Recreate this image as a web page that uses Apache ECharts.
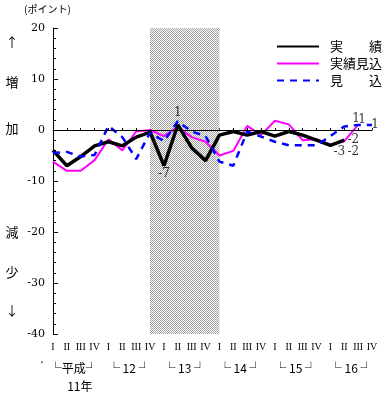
<!DOCTYPE html>
<html><head><meta charset="utf-8">
<script src="https://cdn.jsdelivr.net/npm/echarts@6/dist/echarts.min.js"></script>
<style>html,body{margin:0;padding:0;background:#fff}#c{width:388px;height:395px}</style>
</head><body><div id="c"></div>
<script>
// ---- data ----
const quarterLabels = ['I','II','III','IV','I','II','III','IV','I','II','III','IV',
                       'I','II','III','IV','I','II','III','IV','I','II','III','IV'];
const yearLabels = ['└平成┘\n　11年','└ 12 ┘','└ 13 ┘','└ 14 ┘','└ 15 ┘','└ 16 ┘'];
const seriesNames = ['実　　績','実績見込','見　　込'];
const jisseki       = [-4,-7,-5.2,-3.1,-2.3,-3.1,-1.4,-0.4,-7,1,-3.5,-6,-1,-0.3,-1,-0.3,-1.2,-0.3,-1,-2,-3,-2,null,null];
const jissekiMikomi = [-6.2,-8,-8,-5.9,-1.8,-4,-0.3,0,-1.2,0.6,-1.4,-2.3,-5,-4.1,0.8,-1,1.8,1.1,-2,-1.8,-2.9,-2.2,1,null];
const mikomi        = [-4.5,-4.3,-5.2,-4.9,0.8,-1.4,-5.7,-0.5,-2.2,1.7,-0.3,-1.2,-6.2,-7,-0.3,-1.3,-2.3,-3,-3,-3,-1.2,0.7,1,1];
const shadeFrom = 7, shadeTo = 12;   // 平成12年IV ～ 14年I

// ---- helpers ----
const yearCenters = yearLabels.map((_, k) => k * 4 + 1.5);
const pc = document.createElement('canvas');
pc.width = 2; pc.height = 2;
const g = pc.getContext('2d');
g.fillStyle = '#ffffff'; g.fillRect(0, 0, 2, 2);
g.fillStyle = '#a0a0a0'; g.fillRect(0, 0, 1, 1); g.fillRect(1, 1, 1, 1);

const srcs = {black: jisseki, mag: jissekiMikomi, blue: mikomi};
const annots = [
  {s:'black', i:8,  dx:0,  dy:8},
  {s:'black', i:9,  dx:0,  dy:-12},
  {s:'black', i:20, dx:9,  dy:7},
  {s:'black', i:21, dx:9,  dy:0},
  {s:'mag',   i:21, dx:9,  dy:11},
  {s:'mag',   i:22, dx:-2, dy:-6},
  {s:'blue',  i:22, dx:4,  dy:-5},
  {s:'blue',  i:23, dx:3,  dy:0}
];
const labelData = annots.map(a => {
  const v = srcs[a.s][a.i];
  return {value: [a.i, v], label: {show: true, position: 'inside', offset: [a.dx, a.dy],
          formatter: String(Math.round(v))}};
});

const numFont = 'DejaVu Serif';
const cjk = 'Noto Sans CJK JP';
const chart = echarts.init(document.getElementById('c'), null, {renderer: 'canvas'});
const sideTexts = [['↑',42],['増',82],['加',128],['減',232],['少',272],['↓',310]];

chart.setOption({
  animation: false,
  backgroundColor: '#fff',
  grid: {left: 53, right: 16, top: 28, bottom: 61, containLabel: false},
  legend: {
    data: seriesNames, orient: 'vertical', left: 271, top: 35,
    itemWidth: 42, itemHeight: 14, itemGap: 4,
    itemStyle: {opacity: 0},
    textStyle: {fontFamily: cjk, fontSize: 13, color: '#000', padding: [0, 0, 0, 6]}
  },
  xAxis: [
    {type: 'category', data: quarterLabels, boundaryGap: false,
     axisLine: {lineStyle: {color: '#000', width: 1}},
     axisTick: {inside: true, length: 2, interval: 0, lineStyle: {color: '#000'}},
     axisLabel: {interval: 0, margin: 8, fontFamily: 'Liberation Serif', fontSize: 10, color: '#000'},
     splitLine: {show: false}},
    {type: 'value', min: 0, max: 23, position: 'bottom',
     axisLine: {show: false}, axisTick: {show: false}, splitLine: {show: false},
     axisLabel: {customValues: yearCenters, margin: 25, fontFamily: cjk, fontSize: 12,
                 lineHeight: 18, color: '#000', verticalAlign: 'top',
                 formatter: v => yearLabels[Math.round((v - 1.5) / 4)] || ''}}
  ],
  yAxis: {type: 'value', min: -40, max: 20, interval: 10,
    axisLine: {show: true, lineStyle: {color: '#000', width: 1}},
    axisTick: {show: true, inside: true, length: 5, lineStyle: {color: '#000'}},
    minorTick: {show: true, splitNumber: 5, length: 3, lineStyle: {color: '#000'}},
    splitLine: {show: false},
    axisLabel: {margin: 8, fontFamily: numFont, fontSize: 11, color: '#000'}},
  graphic: [
    {type: 'text', left: 24, top: 4, style: {text: '(ポイント)', font: '10px "Noto Sans CJK JP"', fill: '#000'}},
    {type: 'text', left: 40, top: 358, style: {text: '·', font: '12px "DejaVu Sans"', fill: '#000'}}
  ].concat(sideTexts.map(([t, y]) => ({type: 'text', x: 12, y: y,
      style: {text: t, font: '13px "Noto Sans CJK JP"', fill: '#000', align: 'center', verticalAlign: 'middle'}}))),
  series: [
    {name: seriesNames[1], type: 'line', data: jissekiMikomi, symbol: 'none', z: 2,
     lineStyle: {color: '#ff00ff', width: 2}, itemStyle: {color: '#ff00ff'},
     markArea: {silent: true, itemStyle: {color: {image: pc, repeat: 'repeat'}},
                data: [[{xAxis: shadeFrom}, {xAxis: shadeTo}]]}},
    {name: seriesNames[0], type: 'line', data: jisseki, symbol: 'none', z: 3,
     lineStyle: {color: '#000', width: 3.5}, itemStyle: {color: '#000'},
     markLine: {silent: true, symbol: 'none', label: {show: false},
                lineStyle: {color: '#000', width: 1, type: 'solid'}, data: [{yAxis: 0}]}},
    {name: seriesNames[2], type: 'line', data: mikomi, symbol: 'none', z: 4,
     lineStyle: {color: '#0000ff', width: 2.5, type: [7, 6]}, itemStyle: {color: '#0000ff'}},
    {name: 'labels', type: 'scatter', data: labelData, symbolSize: 1, z: 5,
     itemStyle: {color: 'rgba(0,0,0,0)'},
     label: {fontFamily: numFont, fontSize: 12, color: '#000'}}
  ]
});
</script></body></html>
